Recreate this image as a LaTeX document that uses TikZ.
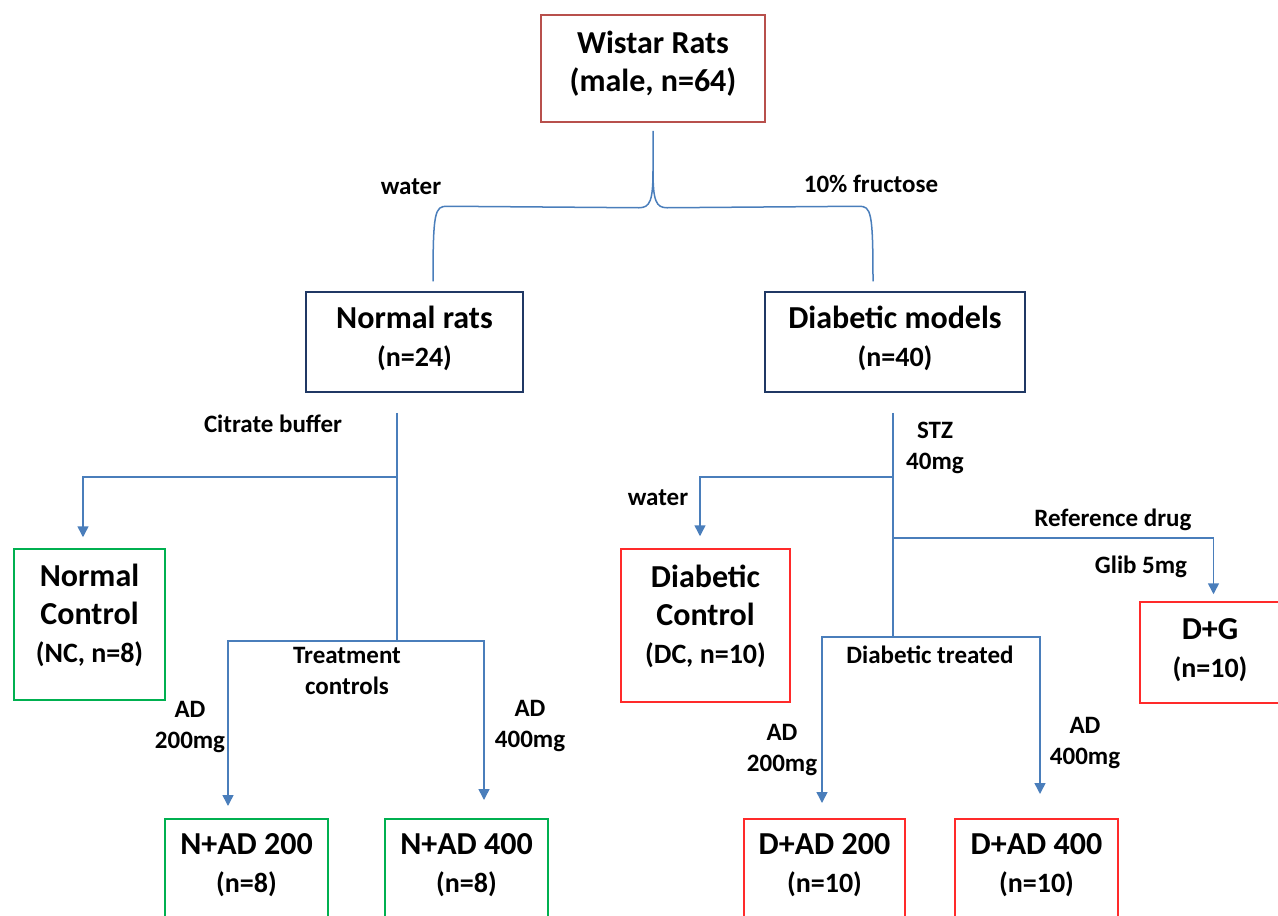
\documentclass[tikz,border=0pt]{standalone}
\usepackage{fontspec}
\setmainfont{Carlito}
\usetikzlibrary{arrows.meta,calc,positioning}

\definecolor{linkblue}{HTML}{4A7EBB}
\definecolor{rootred}{HTML}{B8504C}
\definecolor{navy}{HTML}{203864}
\definecolor{grpgreen}{HTML}{00B050}
\definecolor{grpred}{HTML}{FF2A2A}

\newcommand{\cnt}[1]{{\fontsize{28}{38}\selectfont #1}}
\newcommand{\lift}[1]{\rule[-#1]{0pt}{#1}}

\tikzset{
  box/.style={draw, line width=1.5pt, align=center, inner sep=0pt,
    font=\bfseries\fontsize{32}{38}\selectfont},
  lblin/.style={anchor=north, align=center, yshift=-12pt,
    font=\bfseries\fontsize{32}{38}\selectfont},
  link/.style={draw=linkblue, line width=1.5pt},
  arr/.style={link, -{Triangle[width=11pt,length=11pt]}},
  lbl/.style={align=center, inner sep=0pt, font=\bfseries\fontsize{25}{31}\selectfont},
}

\begin{document}
\begin{tikzpicture}[x=1pt, y=-1pt]
  \useasboundingbox (0,0) rectangle (1278,916);
  \clip (0,0) rectangle (1278,916);

  % boxes
  \node[box, draw=rootred, minimum width=224, minimum height=107] (wistar) at (653,68.5) {Wistar Rats\\(male, n=64)\lift{15pt}};
  \node[box, draw=navy, minimum width=217, minimum height=100] (normal) at (414.5,342) {Normal rats\\\cnt{(n=24)}\lift{12pt}};
  \node[box, draw=navy, minimum width=260, minimum height=100] (diab) at (895,342) {Diabetic models\\\cnt{(n=40)}\lift{12pt}};

  \node[box, draw=grpgreen, minimum width=151, minimum height=151] (nc) at (89.5,624.5) {Normal\\Control\\\cnt{(NC, n=8)}\lift{23pt}};
  \node[box, draw=grpred, minimum width=169, minimum height=153] (dc) at (705.5,625.5) {Diabetic\\Control\\\cnt{(DC, n=10)}\lift{23pt}};
  \node[box, draw=grpred, minimum width=140, minimum height=101] (dg) at (1210,652.5) {D+G\\\cnt{(n=10)}\lift{10pt}};

  % bottom row, cut by the page edge
  \node[box, draw=grpgreen, minimum width=163, minimum height=150, anchor=north,
    label={[lblin]north:{N+AD 200\\\cnt{(n=8)}}}] (nad200) at (246.5,818) {};
  \node[box, draw=grpgreen, minimum width=163, minimum height=150, anchor=north,
    label={[lblin]north:{N+AD 400\\\cnt{(n=8)}}}] (nad400) at (466.5,818) {};
  \node[box, draw=grpred, minimum width=161, minimum height=150, anchor=north,
    label={[lblin]north:{D+AD 200\\\cnt{(n=10)}}}] (dad200) at (824.5,818) {};
  \node[box, draw=grpred, minimum width=163, minimum height=150, anchor=north,
    label={[lblin]north:{D+AD 400\\\cnt{(n=10)}}}] (dad400) at (1036.5,818) {};

  % brace from the root
  \coordinate (brtip) at ($(wistar.south)+(0,8)$);
  \coordinate (brl) at ($(normal.north)+(18.5,-10)$);
  \coordinate (brr) at ($(diab.north)+(-22,-10)$);
  \draw[link] (brl) .. controls ($(brl)+(0,-70)$) and ($(brl)+(2,-75)$) .. ($(brl)+(14,-75)$)
    -- ($(brtip)+(-14,77)$) .. controls ($(brtip)+(-3,77)$) and ($(brtip)+(0,70)$) .. ($(brtip)+(0,40)$) -- (brtip);
  \draw[link] (brr) .. controls ($(brr)+(0,-70)$) and ($(brr)+(-2,-75)$) .. ($(brr)+(-14,-75)$)
    -- ($(brtip)+(14,77)$) .. controls ($(brtip)+(3,77)$) and ($(brtip)+(0,70)$) .. ($(brtip)+(0,40)$);
  \node[lbl] (lwater) at (411,187) {water};
  \node[lbl] (lfruc) at (871,184) {10\% fructose};

  % normal rats branch
  \coordinate (nstem) at ([xshift=-17.5pt,yshift=-20pt]normal.south);
  \coordinate (nj1) at ($(nstem)+(0,64)$);
  \coordinate (nj2) at ($(nstem)+(0,228)$);
  \draw[link] (nstem) -- (nj2);
  \draw[arr] (nj1) -| ([xshift=-6.5pt,yshift=11pt]nc.north);
  \draw[arr] (nj2) -| ([xshift=-18.5pt,yshift=12pt]nad200.north);
  \draw[arr] (nj2) -| ([xshift=17.5pt,yshift=18pt]nad400.north);
  \node[lbl] (lcitr) at (273,424) {Citrate buffer};
  \node[lbl] (ltreat) at (347,671) {Treatment\\controls};
  \node[lbl] (lnad2) at (190,727) {AD\\200mg};
  \node[lbl] (lnad4) at (530,726) {AD\\400mg};

  % diabetic branch
  \coordinate (dstem) at ([xshift=-2pt,yshift=-20pt]diab.south);
  \coordinate (dj1) at ($(dstem)+(0,64)$);
  \coordinate (dj2) at ($(dstem)+(0,125)$);
  \coordinate (dj3) at ($(dstem)+(0,224)$);
  \draw[link] (dstem) -- (dj3);
  \draw[arr] (dj1) -| ([xshift=-5.5pt,yshift=12pt]dc.north);
  \draw[arr] (dj2) -| ([xshift=3.5pt,yshift=7pt]dg.north);
  \draw[arr] (dj3) -| ([xshift=-2.5pt,yshift=15pt]dad200.north);
  \draw[arr] (dj3) -| ([xshift=3.5pt,yshift=24pt]dad400.north);
  \node[lbl] (lstz) at (935,448) {STZ\\40mg};
  \node[lbl] (ldwater) at (658,498) {water};
  \node[lbl] (lref) at (1113,520) {Reference drug};
  \node[lbl] (lglib) at (1141,567) {Glib 5mg};
  \node[lbl] (ldtreat) at (930,655) {Diabetic treated};
  \node[lbl] (ldad2) at (782,750) {AD\\200mg};
  \node[lbl] (ldad4) at (1085,743) {AD\\400mg};
\end{tikzpicture}
\end{document}
